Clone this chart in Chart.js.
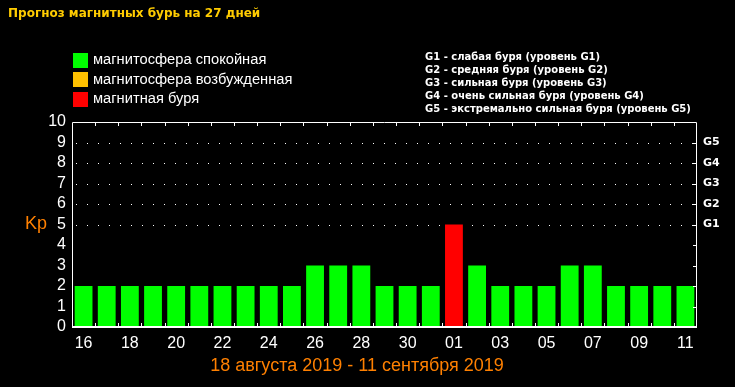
<!DOCTYPE html>
<html>
<head>
<meta charset="utf-8">
<script src="https://cdn.jsdelivr.net/npm/chart.js@4.4.0/dist/chart.umd.min.js"></script>
<style>
  html, body { margin: 0; background: #000; }
</style>
</head>
<body>
<canvas id="kp-chart" width="735" height="387"></canvas>
<script>
var days = ["16","17","18","19","20","21","22","23","24","25","26","27","28","29","30","31",
            "01","02","03","04","05","06","07","08","09","10","11"];
var kpValues = [2,2,2,2,2,2,2,2,2,2,3,3,3,2,2,2,5,3,2,2,2,3,3,2,2,2,2];
var stormLevels = ["G1","G2","G3","G4","G5"]; // Kp 5..9
var legendLabels = ["магнитосфера спокойная", "магнитосфера возбужденная", "магнитная буря"];
var legendColors = ["#00ff00", "#ffc000", "#ff0000"];
var stormNotes = [
  "G1 - слабая буря (уровень G1)",
  "G2 - средняя буря (уровень G2)",
  "G3 - сильная буря (уровень G3)",
  "G4 - очень сильная буря (уровень G4)",
  "G5 - экстремально сильная буря (уровень G5)"
];
var chartTitle = "Прогноз магнитных бурь на 27 дней";
var periodText = "18 августа 2019 - 11 сентября 2019";

function barColor(v) {
  if (v >= 5) return legendColors[2];
  if (v >= 4) return legendColors[1];
  return legendColors[0];
}

// frame, dotted storm lines, little ticks and all the loose text
const decor = {
  id: 'decor',
  beforeDatasetsDraw(chart) {
    const { ctx, chartArea: a, scales: { y } } = chart;
    ctx.save();
    ctx.fillStyle = '#fff';
    for (let v = 5; v <= 9; v++) {
      const py = Math.round(y.getPixelForValue(v));
      for (let px = a.left + 4; px < a.right - 2; px += 11) ctx.fillRect(px, py, 1, 1);
    }
    ctx.restore();
  },
  afterDatasetsDraw(chart) {
    const { ctx, chartArea: a, scales: { x, y } } = chart;
    ctx.save();
    ctx.strokeStyle = '#fff';
    ctx.lineWidth = 1;
    ctx.beginPath();
    ctx.moveTo(a.left + 0.5, a.bottom);
    ctx.lineTo(a.left + 0.5, a.top + 0.5);
    ctx.lineTo(a.right - 0.5, a.top + 0.5);
    ctx.lineTo(a.right - 0.5, a.bottom);
    ctx.stroke();
    ctx.lineWidth = 2;
    ctx.beginPath();
    ctx.moveTo(a.left, a.bottom);
    ctx.lineTo(a.right, a.bottom);
    ctx.stroke();

    // ticks at category boundaries, top and bottom
    ctx.lineWidth = 1;
    ctx.beginPath();
    const step = (a.right - a.left) / days.length;
    for (let i = 1; i < days.length; i++) {
      const px = Math.round(x.getPixelForValue(i) - step / 2) + 0.5;
      ctx.moveTo(px, a.bottom); ctx.lineTo(px, a.bottom - 4);
      ctx.moveTo(px, a.top); ctx.lineTo(px, a.top + 4);
    }
    // ticks on right side
    for (let v = 1; v < 10; v++) {
      const py = Math.round(y.getPixelForValue(v)) + 0.5;
      ctx.moveTo(a.right, py); ctx.lineTo(a.right - 4, py);
    }
    ctx.stroke();

    // title
    ctx.textBaseline = 'middle';
    ctx.textAlign = 'left';
    ctx.font = 'bold 12px "DejaVu Sans"';
    ctx.fillStyle = '#ffcc00';
    ctx.fillText(chartTitle, 8, 14);

    // legend
    ctx.font = '14.7px "Liberation Sans"';
    legendLabels.forEach((t, i) => {
      const cy = 60 + i * 19.7;
      ctx.fillStyle = legendColors[i];
      ctx.fillRect(73, Math.round(cy - 7.5), 15, 15);
      ctx.fillStyle = '#fff';
      ctx.fillText(t, 93, cy);
    });

    // storm level notes
    ctx.font = 'bold 10px "DejaVu Sans"';
    stormNotes.forEach((t, i) => ctx.fillText(t, 425, 57 + i * 13.1));

    // Kp
    ctx.font = '18px "Liberation Sans"';
    ctx.fillStyle = '#ff8000';
    ctx.fillText('Kp', 25, y.getPixelForValue(5));

    // period
    ctx.font = '18px "Liberation Sans"';
    ctx.textAlign = 'center';
    ctx.fillText(periodText, 357, 366);
    ctx.restore();
  }
};

new Chart(document.getElementById('kp-chart'), {
  type: 'bar',
  data: {
    labels: days,
    datasets: [{
      data: kpValues,
      backgroundColor: kpValues.map(barColor),
      categoryPercentage: 1,
      barPercentage: 0.77
    }]
  },
  options: {
    responsive: false,
    animation: false,
    devicePixelRatio: 1,
    layout: { padding: { top: 122, left: 0, right: 0, bottom: 0 } },
    plugins: { legend: { display: false }, tooltip: { enabled: false } },
    scales: {
      x: {
        grid: { display: false, drawTicks: false },
        border: { display: false },
        ticks: {
          color: '#fff',
          font: { family: 'Liberation Sans', size: 16 },
          autoSkip: false,
          maxRotation: 0,
          padding: 7,
          callback: (v, i) => (i % 2 === 0 ? days[i] : '')
        },
        afterFit: s => { s.height = 60; }
      },
      y: {
        min: 0, max: 10,
        grid: { display: false, drawTicks: false },
        border: { display: false },
        ticks: {
          stepSize: 1,
          autoSkip: false,
          color: '#fff',
          font: { family: 'Liberation Sans', size: 16 },
          padding: 6
        },
        afterFit: s => { s.width = 72; }
      },
      y2: {
        position: 'right',
        min: 0, max: 10,
        grid: { display: false, drawTicks: false },
        border: { display: false },
        ticks: {
          stepSize: 1,
          autoSkip: false,
          color: '#fff',
          font: { family: 'DejaVu Sans', size: 11, weight: 'bold' },
          padding: 6,
          callback: v => (v >= 5 && v <= 9 ? stormLevels[v - 5] : '')
        },
        afterFit: s => { s.width = 38; }
      }
    }
  },
  plugins: [decor]
});
</script>
</body>
</html>
